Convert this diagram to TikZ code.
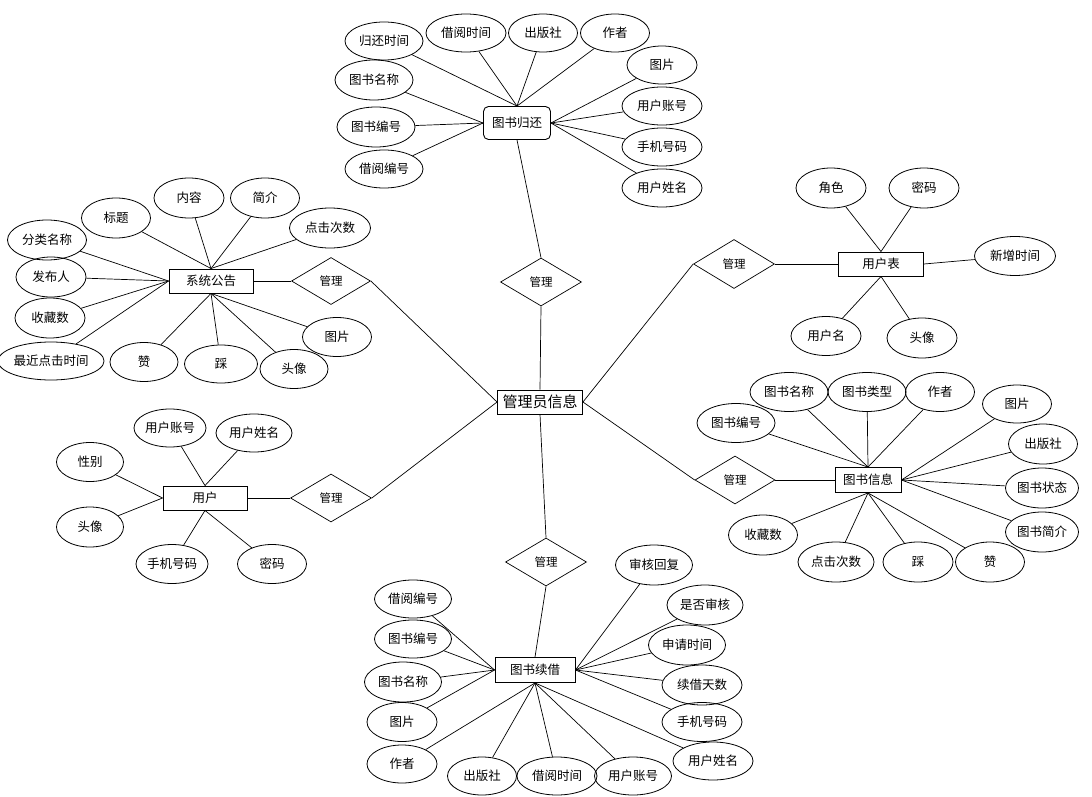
\documentclass[tikz,border=0pt]{standalone}
\usepackage{fontspec}
\newfontfamily\cjk{Noto Sans CJK SC}
\usetikzlibrary{shapes.geometric}
\begin{document}
\begin{tikzpicture}[x=1pt,y=-1pt,
  every node/.style={font=\cjk\fontsize{12.5}{14}\selectfont},
  attr/.style={ellipse,draw,line width=0.8pt,inner sep=0pt,minimum height=38pt,minimum width=#1},
  attr/.default=72pt,
  ent/.style={rectangle,draw,line width=0.9pt,inner sep=0pt,minimum height=24pt,minimum width=#1},
  ent/.default=84pt,
  rel/.style={diamond,draw,line width=0.7pt,inner sep=0pt,aspect=1.65,minimum width=81pt,minimum height=48pt,font=\cjk\fontsize{11.5}{13}\selectfont},
  conn/.style={line width=0.7pt}]
\useasboundingbox (0,0) rectangle (1092,797);

% central
\node[ent=85pt,font=\cjk\fontsize{15}{17}\selectfont] (admin) at (540,402) {管理员信息};

% ---- top: 图书归还
\node[draw,line width=0.9pt,rounded corners=5pt,inner sep=0pt,minimum width=67pt,minimum height=33pt] (g) at (517,123) {图书归还};
\node[rel] (d1) at (541,282) {管理};
\node[attr=78pt] (g1) at (384,41) {归还时间};
\node[attr=80pt] (g2) at (466,33) {借阅时间};
\node[attr=69pt] (g3) at (543,33) {出版社};
\node[attr=69pt] (g4) at (615,33) {作者};
\node[attr=70pt] (g5) at (662,65) {图片};
\node[attr=80pt] (g6) at (662,106) {用户账号};
\node[attr=80pt] (g7) at (662,147) {手机号码};
\node[attr=80pt] (g8) at (662,188) {用户姓名};
\node[attr=78pt,minimum height=40pt] (g9) at (374,80) {图书名称};
\node[attr=78pt,minimum height=40pt] (g10) at (376,127) {图书编号};
\node[attr=78pt] (g11) at (384,169) {借阅编号};
\foreach \i in {1,2,3,4} \draw[conn] (g\i) -- (g.north);
\foreach \i in {5,6,7,8} \draw[conn] (g\i) -- (g.east);
\foreach \i in {9,10,11} \draw[conn] (g\i) -- (g.west);
\draw[conn] (g.south) -- (d1.north);
\draw[conn] (d1.south) -- (admin.north);

% ---- 系统公告
\node[ent] (n) at (211,281) {系统公告};
\node[rel,minimum width=79pt,minimum height=47pt] (d2) at (331,281) {管理};
\node[attr=69pt,minimum height=40pt] (n1) at (116,218) {标题};
\node[attr=70pt,minimum height=40pt] (n2) at (189,198) {内容};
\node[attr=69pt,minimum height=40pt] (n3) at (265,198) {简介};
\node[attr=81pt,minimum height=40pt] (n4) at (330,228) {点击次数};
\node[attr=79pt,minimum height=40pt] (n5) at (47,240) {分类名称};
\node[attr=70pt,minimum height=40pt] (n6) at (51,277) {发布人};
\node[attr=70pt,minimum height=40pt] (n7) at (50,318) {收藏数};
\node[attr=102pt] (n8) at (51,361) {最近点击时间};
\node[attr=68pt,minimum height=39pt] (n9) at (144,362) {赞};
\node[attr=73pt] (n10) at (221,364) {踩};
\node[attr=68pt,minimum height=39pt] (n11) at (294,369) {头像};
\node[attr=69pt,minimum height=39pt] (n12) at (337,337) {图片};
\foreach \i in {1,2,3,4} \draw[conn] (n\i) -- (n.north);
\foreach \i in {5,6,7,8} \draw[conn] (n\i) -- (n.west);
\foreach \i in {9,10,11,12} \draw[conn] (n\i) -- (n.south);
\draw[conn] (n.east) -- (d2.west);
\draw[conn] (d2.east) -- (admin.west);

% ---- 用户
\node[ent] (u) at (205,498) {用户};
\node[rel] (d3) at (331,498) {管理};
\node[attr=72pt] (u1) at (170,428) {用户账号};
\node[attr=76pt] (u2) at (254,433) {用户姓名};
\node[attr=67pt,minimum height=39pt] (u3) at (90,462) {性别};
\node[attr=67pt,minimum height=40pt] (u4) at (90,527) {头像};
\node[attr=72pt,minimum height=39pt] (u5) at (172,564) {手机号码};
\node[attr=69pt,minimum height=39pt] (u6) at (272,564) {密码};
\foreach \i in {1,2} \draw[conn] (u\i) -- (u.north);
\foreach \i in {3,4} \draw[conn] (u\i) -- (u.west);
\foreach \i in {5,6} \draw[conn] (u\i) -- (u.south);
\draw[conn] (u.east) -- (d3.west);
\draw[conn] (d3.east) -- (admin.west);

% ---- 用户表
\node[ent=85pt] (t) at (881,264) {用户表};
\node[rel,minimum height=49pt] (d4) at (734,264) {管理};
\node[attr=70pt,minimum height=40pt] (t1) at (831,188) {角色};
\node[attr=70pt,minimum height=40pt] (t2) at (924,188) {密码};
\node[attr=81pt,minimum height=39pt] (t3) at (1015,256) {新增时间};
\node[attr=70pt,minimum height=39pt] (t4) at (826,336) {用户名};
\node[attr=70pt,minimum height=40pt] (t5) at (922,338) {头像};
\foreach \i in {1,2} \draw[conn] (t\i) -- (t.north);
\draw[conn] (t3) -- (t.east);
\foreach \i in {4,5} \draw[conn] (t\i) -- (t.south);
\draw[conn] (d4.east) -- (t.west);
\draw[conn] (admin.east) -- (d4.west);

% ---- 图书信息
\node[ent=66pt,minimum height=25pt] (b) at (868,480) {图书信息};
\node[rel,minimum width=80pt] (d5) at (735,480) {管理};
\node[attr=78pt,minimum height=39pt] (b1) at (789,392) {图书名称};
\node[attr=78pt,minimum height=39pt] (b2) at (867,392) {图书类型};
\node[attr=69pt,minimum height=39pt] (b3) at (940,392) {作者};
\node[attr=78pt,minimum height=39pt] (b4) at (736,423) {图书编号};
\node[attr=69pt] (b5) at (1017,404) {图片};
\node[attr=69pt,minimum height=40pt] (b6) at (1043,444) {出版社};
\node[attr=73pt,minimum height=40pt] (b7) at (1042,488) {图书状态};
\node[attr=73pt,minimum height=40pt] (b8) at (1042,532) {图书简介};
\node[attr=69pt,minimum height=40pt] (b9) at (763,535) {收藏数};
\node[attr=76pt,minimum height=40pt] (b10) at (836,562) {点击次数};
\node[attr=70pt,minimum height=40pt] (b11) at (918,562) {踩};
\node[attr=69pt,minimum height=40pt] (b12) at (990,562) {赞};
\foreach \i in {1,2,3,4} \draw[conn] (b\i) -- (b.north);
\foreach \i in {5,6,7,8} \draw[conn] (b\i) -- (b.east);
\foreach \i in {9,10,11,12} \draw[conn] (b\i) -- (b.south);
\draw[conn] (d5.east) -- (b.west);
\draw[conn] (admin.east) -- (d5.west);

% ---- 图书续借
\node[ent=80pt,minimum height=25pt] (r) at (535,670) {图书续借};
\node[rel] (d6) at (546,562) {管理};
\node[attr=77pt,minimum height=40pt] (r1) at (654,565) {审核回复};
\node[attr=76pt,minimum height=40pt] (r2) at (705,605) {是否审核};
\node[attr=77pt,minimum height=40pt] (r3) at (687,645) {申请时间};
\node[attr=80pt,minimum height=40pt] (r4) at (702,685) {续借天数};
\node[attr=80pt,minimum height=39pt] (r5) at (702,722) {手机号码};
\node[attr=80pt] (r6) at (713,761) {用户姓名};
\node[attr=77pt] (r7) at (413,599) {借阅编号};
\node[attr=77pt] (r8) at (413,639) {图书编号};
\node[attr=77pt,minimum height=40pt] (r9) at (403,682) {图书名称};
\node[attr=70pt,minimum height=39pt] (r10) at (402,722) {图片};
\node[attr=70pt] (r11) at (402,764) {作者};
\node[attr=69pt] (r12) at (482,776) {出版社};
\node[attr=80pt] (r13) at (557,776) {借阅时间};
\node[attr=77pt] (r14) at (633,776) {用户账号};
\foreach \i in {1,2,3,4,5} \draw[conn] (r\i) -- (r.east);
\foreach \i in {7,8,9,10} \draw[conn] (r\i) -- (r.west);
\foreach \i in {6,11,12,13,14} \draw[conn] (r\i) -- (r.south);
\draw[conn] (d6.south) -- (r.north);
\draw[conn] (admin.south) -- (d6.north);
\end{tikzpicture}
\end{document}
